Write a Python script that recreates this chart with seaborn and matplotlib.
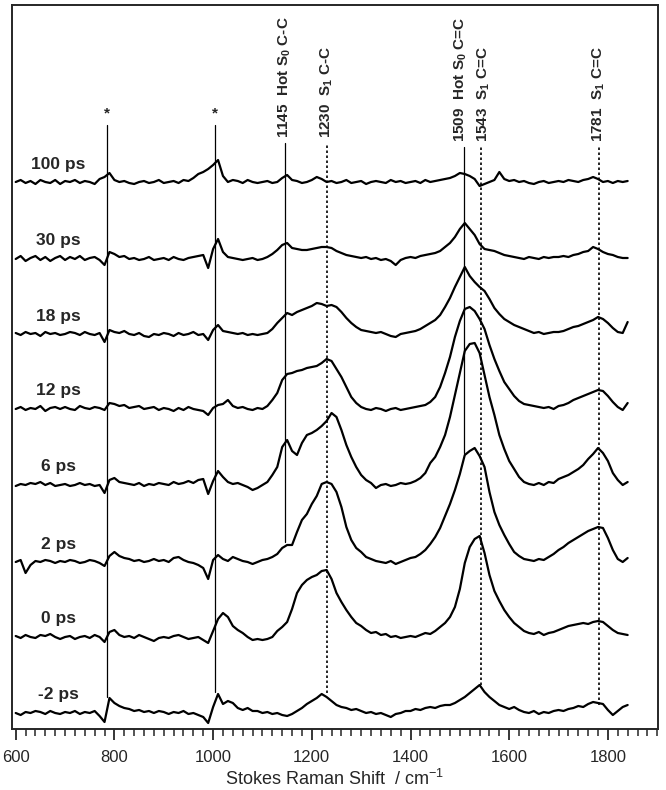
import numpy as np
import pandas as pd
import matplotlib
matplotlib.use("Agg")
import matplotlib.pyplot as plt
from matplotlib.ticker import MultipleLocator
import seaborn as sns

# Raman shift grid (cm-1), one value every 10 cm-1 from 600 to 1840
shift = np.arange(600, 1850, 10)

# intensities, relative to each trace's own baseline
s_m2 = [0, -2, 1, 0, 2, 1, -1, 2, 0, -1,
        1, 0, 2, -1, 1, 0, 2, -3, -9, 15,
        10, 7, 5, 4, 2, 3, 1, 2, 0, 2,
        1, -1, 1, 0, 2, -1, 0, -2, -4, -10,
        6, 19, 9, 12, 10, 5, 3, 5, 2, 2,
        0, 1, -1, 0, -2, -3, -1, 2, 5, 9,
        12, 15, 19, 16, 12, 8, 6, 5, 3, 4,
        2, 0, 1, -1, 0, -2, -4, -1, 0, 2,
        2, 4, 3, 5, 6, 5, 7, 8, 8, 10,
        13, 16, 20, 24, 28, 21, 16, 12, 8, 6,
        4, 6, 3, 1, 0, 2, -1, 1, 0, 2,
        3, 2, 4, 5, 7, 6, 9, 11, 10, 9,
        3, -2, 2, 6, 8]
s_0 = [1, -1, 2, 0, -1, 2, 1, 3, 0, -2,
       0, 1, -2, 0, 1, -1, 2, 0, -5, 5,
       7, 2, 0, 1, -1, 2, 0, -2, -4, -1,
       0, -1, 1, 2, 0, -2, -1, 0, -3, -6,
       6, 18, 24, 20, 11, 7, 4, 0, -3, -2,
       -3, -2, 0, 6, 10, 15, 28, 44, 52, 57,
       60, 62, 66, 67, 58, 44, 35, 27, 20, 14,
       11, 7, 4, 5, 2, 3, 0, 1, -1, 0,
       1, 0, 2, 4, 3, 6, 10, 14, 20, 30,
       48, 74, 90, 98, 101, 84, 62, 46, 36, 27,
       20, 14, 10, 6, 4, 3, 5, 2, 4, 5,
       7, 9, 11, 12, 13, 14, 13, 15, 16, 15,
       11, 7, 4, 3, 2]
s_2 = [0, 2, -11, -3, 1, 0, 2, 1, -1, 1,
       0, 2, 1, -1, 0, 2, 1, -1, -4, 6,
       10, 6, 4, 3, 1, 2, 0, 1, 3, 1,
       2, 0, 4, 5, 2, 0, -1, -3, -6, -17,
       2, 7, 3, 1, 5, 3, 1, 0, -2, 0,
       2, 3, 5, 8, 14, 17, 17, 30, 42, 48,
       58, 66, 78, 80, 78, 70, 55, 35, 22, 14,
       10, 5, 3, 1, 0, -1, 1, -2, 0, 2,
       4, 5, 8, 12, 18, 25, 34, 46, 58, 72,
       88, 107, 111, 114, 106, 95, 70, 50, 37, 27,
       18, 10, 6, 3, 2, 1, 3, 2, 5, 8,
       12, 15, 19, 22, 25, 28, 31, 33, 35, 34,
       24, 12, 3, 0, 4]
s_6 = [-1, 1, 0, 2, 1, 3, 0, 2, -1, 0,
       1, -1, 0, 2, 0, 1, -1, 0, -8, 5,
       7, 3, 2, 1, 0, 2, -1, 1, 0, 2,
       1, 0, 3, 1, 2, 4, 2, 5, 6, -9,
       4, 14, 8, 3, 1, 2, 0, -2, -5, -3,
       0, 3, 10, 18, 38, 45, 34, 30, 42, 50,
       52, 55, 59, 64, 72, 68, 55, 40, 28, 18,
       10, 5, 2, -3, 0, 1, -1, 0, 2, 1,
       2, 4, 7, 12, 22, 28, 38, 50, 68, 90,
       112, 134, 141, 142, 132, 110, 88, 70, 50, 36,
       24, 16, 8, 3, 1, 0, 2, 0, 3, 2,
       6, 8, 10, 13, 16, 20, 26, 31, 37, 32,
       24, 12, 5, 0, 3]
s_12 = [0, 2, -1, 1, 0, 3, -2, 1, 2, 0,
        2, 0, -1, 3, 1, 0, 2, 1, -1, 6,
        5, 3, 4, 1, 2, 3, 0, 1, 2, -1,
        1, 0, -2, 1, -1, 2, 0, -1, -2, -6,
        1, 4, 5, 9, 3, 1, 2, 0, -1, 1,
        0, 3, 9, 16, 29, 35, 36, 38, 39, 41,
        42, 43, 46, 50, 48, 40, 32, 22, 12, 6,
        2, 0, -1, 1, 0, -2, 0, 1, -1, 0,
        1, 2, 3, 4, 7, 12, 22, 36, 52, 72,
        88, 100, 102, 98, 90, 80, 64, 50, 38, 27,
        20, 13, 8, 5, 4, 3, 2, 1, 2, 0,
        3, 4, 6, 9, 11, 13, 15, 17, 19, 18,
        13, 7, 2, -1, 6]
s_18 = [1, -1, 2, 0, 1, -2, 2, 0, 1, -1,
        0, 2, 1, -1, 2, 0, -1, 1, -8, 4,
        2, 1, 3, 0, -1, 1, -2, -3, 0, -1,
        1, 0, -2, 1, -1, 0, 2, -1, 0, -6,
        4, 9, 3, 2, 1, 0, 1, -1, 0, -1,
        0, 1, 5, 11, 16, 21, 19, 22, 24, 26,
        28, 31, 30, 28, 29, 27, 22, 16, 11, 7,
        4, 3, 2, 1, 2, 0, -2, -3, 0, 1,
        2, 3, 5, 8, 11, 14, 19, 27, 36, 47,
        57, 67, 58, 52, 47, 43, 35, 26, 20, 15,
        12, 9, 7, 5, 3, 1, 2, 0, 1, 2,
        2, 3, 5, 7, 8, 10, 12, 14, 17, 15,
        11, 6, 2, 1, 12]
s_30 = [0, 3, -2, 1, 3, -1, 2, -2, 1, 3,
        -1, 2, 0, 3, -1, 1, 2, -1, -6, 7,
        5, 2, 3, 0, 1, -1, 0, 2, -1, 0,
        1, -1, 2, 0, -1, 1, 2, 3, 4, -9,
        10, 20, 7, 2, 1, 0, -1, 0, 1, -1,
        0, 2, 5, 9, 14, 16, 11, 10, 9, 9,
        10, 11, 12, 12, 11, 8, 6, 4, 3, 2,
        1, 2, 0, 1, -1, 0, -2, -6, -1, 1,
        2, 1, 3, 4, 5, 6, 8, 12, 16, 22,
        30, 36, 30, 24, 15, 10, 9, 8, 6, 4,
        3, 2, 1, 0, 2, 1, 0, 2, 1, 2,
        2, 3, 2, 4, 5, 7, 8, 12, 10, 7,
        5, 4, 2, 1, 1]
s_100 = [0, 2, -1, 1, -2, 2, 0, -1, 2, -2,
         1, 0, 2, -1, 1, 0, -2, 3, 5, 9,
         2, 0, 1, -1, -2, 0, 1, -1, 0, 2,
         -1, 0, 1, -1, 2, 1, 4, 8, 10, 13,
         17, 22, 6, 0, 2, 1, -1, 2, 0, -1,
         0, 1, -1, 0, 4, 7, 2, 1, -1, 0,
         2, 5, 3, 0, 1, -1, 0, 2, -1, 0,
         1, -2, 0, 1, 0, -1, 2, 0, 1, -1,
         0, 1, -1, 2, 0, 1, 2, 3, 4, 6,
         9, 8, 6, 3, -4, -2, 0, 2, 10, 3,
         1, 2, 0, 1, -1, -2, 0, 1, -1, 0,
         1, 0, 2, 1, 0, 2, 3, 5, 3, 0,
         1, -1, 1, 0, 1]

delays = ["100 ps", "30 ps", "18 ps", "12 ps", "6 ps", "2 ps", "0 ps", "-2 ps"]
spectra = [s_100, s_30, s_18, s_12, s_6, s_2, s_0, s_m2]
offsets = [547, 470, 395, 320, 244, 167, 92, 16]

# marker lines: position, label, style, top, bottom
band_pos = [785, 1003, 1145, 1230, 1509, 1543, 1781]
band_text = ["*", "*", "1145  Hot S$_0$ C-C", "1230  S$_1$ C-C",
             "1509  Hot S$_0$ C=C", "1543  S$_1$ C=C", "1781  S$_1$ C=C"]
band_dotted = [False, False, False, True, False, True, True]
band_top = [604, 604, 586, 586, 582, 582, 582]
band_bottom = [32, 37, 187, 36, 276, 44, 24]
text_nudge = [0, 0, 0, 0, -7, 5, 0]

sns.set_style("ticks")
plt.rcParams["font.family"] = ["Liberation Sans", "DejaVu Sans"]
plt.rcParams["mathtext.fontset"] = "custom"
plt.rcParams["mathtext.rm"] = "Liberation Sans"
plt.rcParams["mathtext.default"] = "regular"

fig = plt.figure(figsize=(6.66, 7.9), dpi=100)
ax = fig.add_axes([12 / 666, 61 / 790, 646 / 666, 724 / 790])

for lab, sp, off in zip(delays, spectra, offsets):
    df = pd.DataFrame({"shift": shift, "inten": np.array(sp) + off})
    sns.lineplot(data=df, x="shift", y="inten", color="black", lw=1.6, ax=ax)
    ax.text(686, off + 18, lab, ha="center", va="center",
            fontsize=12.5, fontweight="bold")

for pos, txt, dot, top, bot, dx in zip(band_pos, band_text, band_dotted,
                                       band_top, band_bottom, text_nudge):
    ax.plot([pos, pos], [bot, top], color="black",
            lw=1.2 if dot else 0.9, ls=(0, (1.5, 1.5)) if dot else "-")
    if txt == "*":
        ax.text(pos, top + 12, txt, ha="center", va="center",
                fontsize=11, fontweight="bold")
    else:
        ax.text(pos + dx, top + 5, txt, ha="center", va="bottom", rotation=90,
                fontsize=11, fontweight="bold")

ax.set_xlim(592.5, 1901.5)
ax.set_ylim(0, 724)
ax.set_yticks([])
ax.xaxis.set_major_locator(MultipleLocator(200))
ax.xaxis.set_minor_locator(MultipleLocator(20))
ax.tick_params(axis="x", which="major", direction="out", length=8, width=1.3,
               labelsize=12, pad=7)
ax.tick_params(axis="x", which="minor", direction="out", length=5, width=1.1)
ax.set_xticks([600, 800, 1000, 1200, 1400, 1600, 1800])
ax.set_xlabel("Stokes Raman Shift  / cm$^{-1}$", fontsize=13, labelpad=3)
ax.set_ylabel("")
for sp in ax.spines.values():
    sp.set_visible(True)
    sp.set_linewidth(1.4)

fig.savefig("out.png", dpi=100)
